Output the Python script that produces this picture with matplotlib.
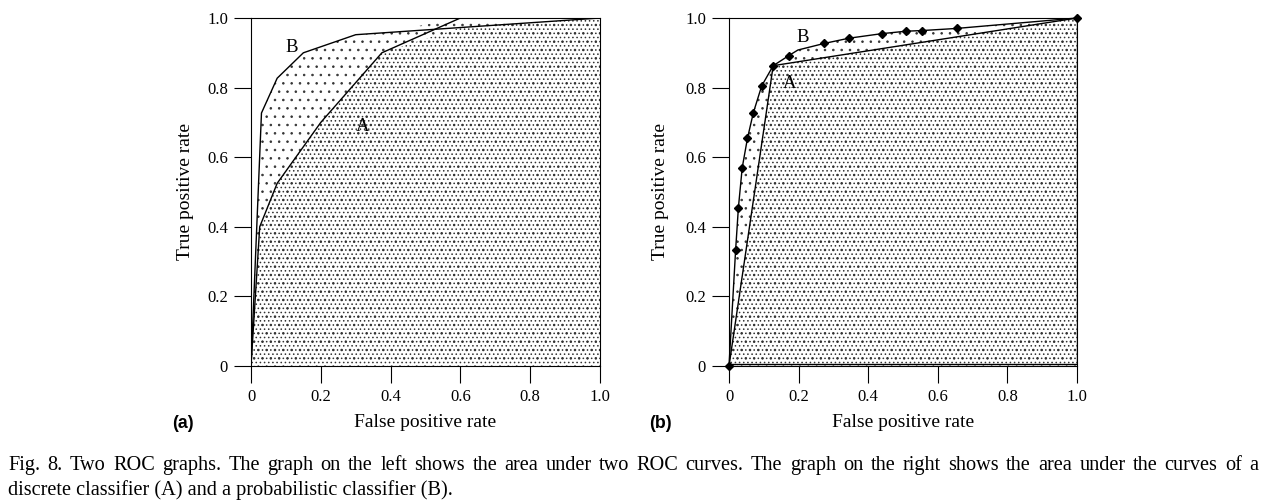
import numpy as np
import matplotlib
matplotlib.use('Agg')
import matplotlib.pyplot as plt

# ROC curves
fpr_a_left = [0.0, 0.025, 0.075, 0.2, 0.375, 0.6, 1.0]
tpr_a_left = [0.0, 0.40, 0.525, 0.70, 0.90, 1.0, 1.0]
fpr_b_left = [0.0, 0.03, 0.075, 0.15, 0.30, 1.0]
tpr_b_left = [0.0, 0.727, 0.827, 0.90, 0.952, 1.0]

# right graph: discrete classifier A, probabilistic classifier B
fpr_a_right = [0.0, 0.127, 1.0]
tpr_a_right = [0.0, 0.863, 1.0]
fpr_b_right = [0.0, 0.019, 0.027, 0.038, 0.053, 0.070, 0.094, 0.127, 0.172, 0.198,
               0.274, 0.345, 0.439, 0.508, 0.556, 0.654, 1.0]
tpr_b_right = [0.0, 0.333, 0.455, 0.570, 0.654, 0.728, 0.805, 0.863, 0.892, 0.908,
               0.927, 0.942, 0.955, 0.962, 0.964, 0.970, 1.0]
marked_b = [i for i in range(len(fpr_b_right)) if i != 9]

ticks = [0, 0.2, 0.4, 0.6, 0.8, 1.0]
tick_labels = ['0', '0.2', '0.4', '0.6', '0.8', '1.0']

caption1 = ('Fig. 8. Two ROC graphs. The graph on the left shows the area under two ROC curves. '
            'The graph on the right shows the area under the curves of a')
caption2 = 'discrete classifier (A) and a probabilistic classifier (B).'

plt.rcParams['font.family'] = ['Liberation Serif', 'DejaVu Serif']
plt.rcParams['hatch.linewidth'] = 0.6

W, H = 1267, 503
fig = plt.figure(figsize=(W / 100, H / 100), dpi=100)
ax1 = fig.add_axes([251 / W, 137 / H, 349 / W, 348 / H])
ax2 = fig.add_axes([729 / W, 137 / H, 348 / W, 348 / H])


def style(ax, ylab_x):
    ax.set_xlim(0, 1)
    ax.set_ylim(0, 1)
    ax.set_xticks(ticks)
    ax.set_xticklabels(tick_labels)
    ax.set_yticks(ticks)
    ax.set_yticklabels(tick_labels)
    ax.tick_params(direction='out', length=12.5, width=0.8, labelsize=12, pad=4)
    for s in ax.spines.values():
        s.set_linewidth(0.8)
    ax.set_xlabel('False positive rate', fontsize=14, va='center')
    ax.xaxis.set_label_coords(0.5, -0.161)
    ax.set_ylabel('True positive rate', fontsize=14, va='center')
    ax.yaxis.set_label_coords(ylab_x, 0.5)


def shade(ax, xa, ya, xb, yb):
    grid = np.union1d(xa, xb)
    ia = np.interp(grid, xa, ya)
    ib = np.interp(grid, xb, yb)
    ax.fill_between(grid, 0, np.maximum(ia, ib), facecolor='none', edgecolor='#333333',
                    hatch='..', lw=0)
    ax.fill_between(grid, 0, np.minimum(ia, ib), facecolor='none', edgecolor='#333333',
                    hatch='....', lw=0)


# (a) area under two ROC curves
shade(ax1, fpr_a_left, tpr_a_left, fpr_b_left, tpr_b_left)
ax1.plot(fpr_a_left, tpr_a_left, color='black', lw=1.0)
ax1.plot(fpr_b_left, tpr_b_left, color='black', lw=1.0)
ax1.text(0.117, 0.915, 'B', fontsize=13.5, ha='center', va='center')
ax1.text(0.32, 0.687, 'A', fontsize=13.5, ha='center', va='center')
style(ax1, -0.189)

# (b) discrete vs probabilistic classifier
shade(ax2, fpr_a_right, tpr_a_right, fpr_b_right, tpr_b_right)
ax2.plot(fpr_a_right, tpr_a_right, color='black', lw=1.0)
ax2.plot([1.0, 1.0, 0.0], [1.0, 0.005, 0.005], color='black', lw=1.0)
ax2.plot(fpr_b_right, tpr_b_right, color='black', lw=1.0, marker='D', ms=4.5,
         markevery=marked_b, clip_on=False)
ax2.text(0.213, 0.943, 'B', fontsize=13.5, ha='center', va='center')
ax2.text(0.175, 0.813, 'A', fontsize=13.5, ha='center', va='center')
style(ax2, -0.198)

fig.text(183 / W, 1 - 423 / H, '(a)', family='Liberation Sans', weight='bold',
         fontsize=12.8, ha='center', va='center')
fig.text(660 / W, 1 - 423 / H, '(b)', family='Liberation Sans', weight='bold',
         fontsize=12.8, ha='center', va='center')

# caption: first line justified between the margins, second line left aligned
cap_size = 14.6
renderer = fig.canvas.get_renderer()
words = caption1.split(' ')
items = [fig.text(0, 1 - 470 / H, w, fontsize=cap_size, ha='left', va='baseline')
         for w in words]
widths = [t.get_window_extent(renderer).width for t in items]
left, right = 8, 1258
gap = (right - left - sum(widths)) / (len(words) - 1)
x = left
for t, wd in zip(items, widths):
    t.set_x(x / W)
    x += wd + gap
fig.text(left / W, 1 - 495 / H, caption2, fontsize=cap_size, ha='left', va='baseline')

fig.savefig('out.png', dpi=100)
